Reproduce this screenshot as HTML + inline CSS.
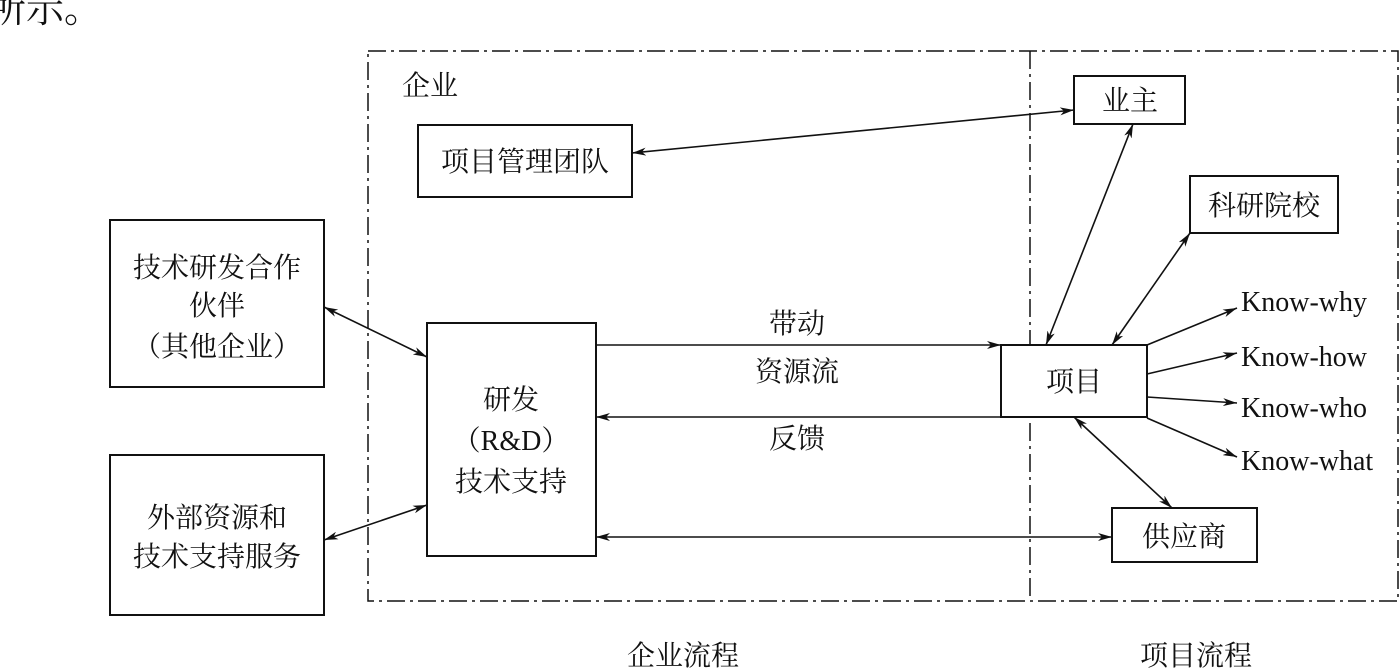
<!DOCTYPE html>
<html><head><meta charset="utf-8"><style>
html,body{margin:0;padding:0;background:#fff;}
svg{display:block;}
text{font-family:"Liberation Serif","Noto Serif CJK SC",serif;fill:#111;}
.c{font-size:28px;}
.k{font-size:28px;}
</style></head><body>
<svg width="1399" height="668" viewBox="0 0 1399 668" xmlns="http://www.w3.org/2000/svg">
<defs>
<marker id="a" viewBox="0 0 14 8" refX="14" refY="4" markerWidth="14" markerHeight="8" markerUnits="userSpaceOnUse" orient="auto-start-reverse">
<path d="M0,0 L14,4 L0,8 L4,4 Z" fill="#111"/></marker>
</defs>
<text x="-12" y="22" style="font-size:38px">所示。</text>
<g fill="none" stroke="#111" stroke-width="1.5" stroke-dasharray="18,5,3,5">
<rect x="368" y="51" width="1030" height="550"/>
<line x1="1030" y1="51" x2="1030" y2="601"/>
</g>
<g fill="#fff" stroke="#111" stroke-width="2">
<rect x="418" y="125" width="214" height="72"/>
<rect x="1074" y="76" width="111" height="48"/>
<rect x="1190" y="176" width="148" height="57"/>
<rect x="110" y="220" width="214" height="167"/>
<rect x="110" y="455" width="214" height="160"/>
<rect x="427" y="323" width="169" height="233"/>
<rect x="1001" y="345" width="146" height="72"/>
<rect x="1112" y="508" width="145" height="54"/>
</g>
<g stroke="#111" stroke-width="1.6" fill="none">
<line x1="596" y1="345" x2="1001" y2="345" marker-end="url(#a)"/>
<line x1="1001" y1="417" x2="596" y2="417" marker-end="url(#a)"/>
<line x1="596" y1="537" x2="1112" y2="537" marker-start="url(#a)" marker-end="url(#a)"/>
<line x1="632" y1="153" x2="1074" y2="110" marker-start="url(#a)" marker-end="url(#a)"/>
<line x1="1133" y1="124" x2="1046" y2="345" marker-start="url(#a)" marker-end="url(#a)"/>
<line x1="1190" y1="233" x2="1112" y2="345" marker-start="url(#a)" marker-end="url(#a)"/>
<line x1="1074" y1="417" x2="1172" y2="508" marker-start="url(#a)" marker-end="url(#a)"/>
<line x1="324" y1="307" x2="427" y2="357" marker-start="url(#a)" marker-end="url(#a)"/>
<line x1="324" y1="540" x2="427" y2="505" marker-start="url(#a)" marker-end="url(#a)"/>
<line x1="1147" y1="345" x2="1237" y2="308" marker-end="url(#a)"/>
<line x1="1147" y1="374" x2="1237" y2="353" marker-end="url(#a)"/>
<line x1="1147" y1="397" x2="1237" y2="403" marker-end="url(#a)"/>
<line x1="1147" y1="418" x2="1237" y2="457" marker-end="url(#a)"/>
</g>
<g class="c" text-anchor="middle">
<text x="430" y="95">企业</text>
<text x="525" y="171">项目管理团队</text>
<text x="1130" y="110">业主</text>
<text x="1264" y="215">科研院校</text>
<text x="217" y="277">技术研发合作</text>
<text x="217" y="315">伙伴</text>
<text x="217" y="356">（其他企业）</text>
<text x="217" y="527">外部资源和</text>
<text x="217" y="566">技术支持服务</text>
<text x="511" y="409">研发</text>
<text x="511" y="450">（R&amp;D）</text>
<text x="511" y="491">技术支持</text>
<text x="1074" y="391">项目</text>
<text x="1184" y="546">供应商</text>
<text x="797" y="333">带动</text>
<text x="797" y="381">资源流</text>
<text x="797" y="448">反馈</text>
<text x="683" y="665">企业流程</text>
<text x="1196" y="665">项目流程</text>
</g>
<g class="k">
<text x="1241" y="311">Know-why</text>
<text x="1241" y="366">Know-how</text>
<text x="1241" y="417">Know-who</text>
<text x="1241" y="470">Know-what</text>
</g>
</svg>
</body></html>
